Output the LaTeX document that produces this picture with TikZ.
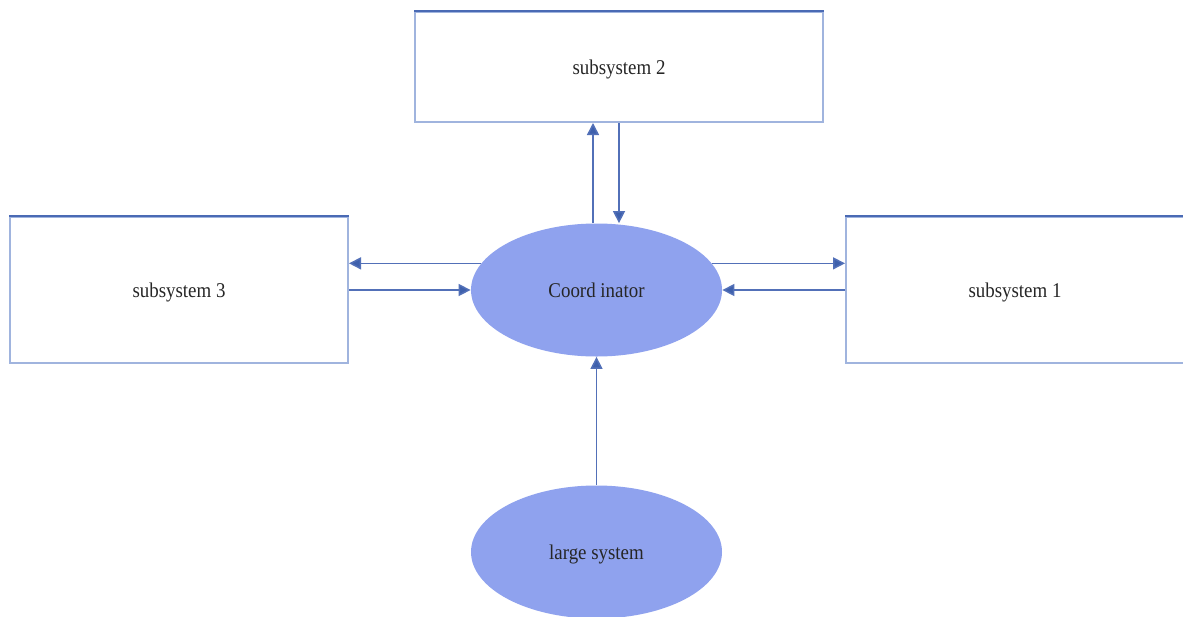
\documentclass[tikz,border=0pt]{standalone}
\usepackage{fontspec}
\setmainfont{Liberation Serif}[FakeStretch=0.9]
\usetikzlibrary{shapes.geometric,arrows.meta}
\definecolor{boxline}{RGB}{160,180,222}
\definecolor{boxtop}{RGB}{74,106,180}
\definecolor{arrline}{RGB}{82,112,184}
\definecolor{arrhead}{RGB}{62,96,172}
\definecolor{ovalfill}{RGB}{143,162,238}
\tikzset{
  x=0.5pt, y=-0.5pt,
  every node/.style={font=\fontsize{10.5}{12}\selectfont, text=black!85, text depth=0pt},
  subbox/.style={draw=boxline, line width=1pt, fill=white, rectangle, inner sep=0pt},
  topedge/.style={draw=boxtop, line width=1.4pt},
  oval/.style={ellipse, fill=ovalfill, draw=none, inner sep=0pt,
    minimum width=125.5pt, minimum height=66.5pt},
  arr/.style={draw=arrline, line width=0.75pt,
    -{Triangle[length=6pt,width=6pt,fill=arrhead]}},
}
\begin{document}
\begin{tikzpicture}
\useasboundingbox (0,0) rectangle (1183,616);
\clip (0,0) rectangle (1183,616);
\fill[white] (0,0) rectangle (1183,616);

% subsystem boxes
\node[subbox, minimum width=204pt, minimum height=55pt] (s2) at (619,67) {subsystem 2};
\node[subbox, minimum width=169pt, minimum height=73pt] (s3) at (179,290) {subsystem 3};
\node[subbox, minimum width=169pt, minimum height=73pt] (s1) at (1015,290) {subsystem 1};
\foreach \b in {s1,s2,s3}
  \draw[topedge] (\b.north west) -- (\b.north east);

% coordinator and large system
\node[oval] (coord) at (596.5,290) {Coord inator};
\node[oval] (large) at (596.5,552) {large system};

% links to subsystem 2
\draw[arr] ([xshift=-1.75pt]coord.north) -- ([xshift=-13pt]s2.south);
\draw[arr] (s2.south) -- ([xshift=11.25pt]coord.north);

% links to subsystem 3
\draw[arr] (coord.167) -- (coord.167 -| s3.east);
\draw[arr] (s3.east) -- (coord.west);

% links to subsystem 1
\draw[arr] (coord.13) -- (coord.13 -| s1.west);
\draw[arr] (s1.west) -- (coord.east);

% large system feeds the coordinator
\draw[arr] (large.north) -- (coord.south);
\end{tikzpicture}
\end{document}
